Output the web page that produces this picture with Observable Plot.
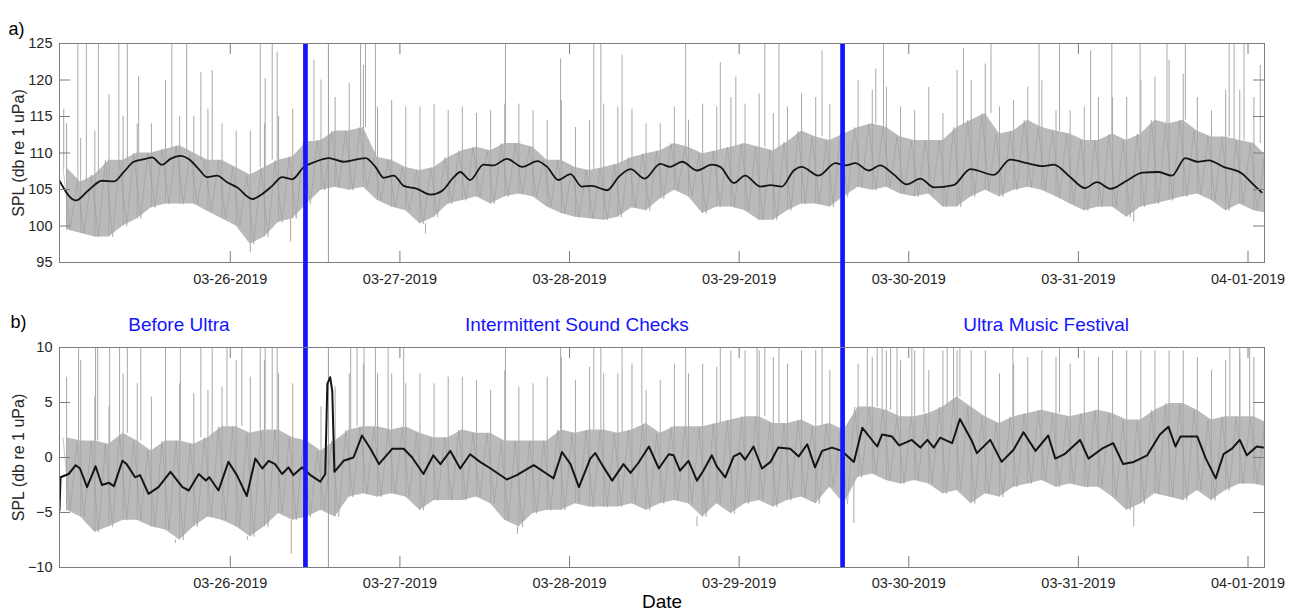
<!DOCTYPE html>
<html><head><meta charset="utf-8">
<script src="https://cdn.jsdelivr.net/npm/d3@7"></script>
<script src="https://cdn.jsdelivr.net/npm/@observablehq/plot@0.6"></script>
<style>
body{margin:0;background:#fff;}
#chart{width:1309px;height:614px;overflow:hidden;position:relative;}
</style></head><body><div id="chart"></div>
<script>
// ---------- data (hours are counted from the left edge of the axes) ----------
const startUTC = "2019-03-24T23:50:00Z";
const endUTC = "2019-04-01T02:20:00Z";
const tickDays = ["2019-03-26","2019-03-27","2019-03-28","2019-03-29","2019-03-30","2019-03-31","2019-04-01"];
const yTicksA = [95, 100, 105, 110, 115, 120, 125];
const yTicksB = [-10, -5, 0, 5, 10];
const yTitle = "SPL (db re 1 uPa)";
const phaseBreaksH = [34.8, 110.8];
const phaseLabels = ["Before Ultra", "Intermittent Sound Checks", "Ultra Music Festival"];
const phaseLabelH = [16.9, 73.2, 139.6];
const gapLineH = 38.05;

// panel a: 2-hour bins, band bottom / band top / top of the hairy spikes
const aLo = [99.5,99,98.5,98.5,100,101,102.5,103,103,103,102,101,100,97.5,98.5,100.5,101,103,104.9,105.3,104.9,105.3,103.5,102.6,102.1,100.3,101.2,103,103.5,104,103,104,104.4,104,102.6,101.7,101.2,101,100.8,101.2,102.5,102.1,103.7,104.9,104,101.7,102.6,102.6,102.1,100.8,100.8,102.1,103,103,102.6,104,105.3,104.9,105.3,104.4,104,104.4,102.6,102.6,104,104.9,104,104.9,105.3,104.9,104,103,102.1,102.6,102.6,101.2,102.6,103,103.5,104,104.4,103.5,102.1,103,102.1,101.7];
const aHi = [108,106,107,109,109,110,110,110.5,111,110,109,109,108,107,108,109,109.5,111.5,111.7,113,113,113.5,109.4,109,108,107.6,108,109.4,110.3,110.8,110.3,111.3,111.3,110.8,109,109,108,107.6,108,108.5,109.4,109.9,110.3,111.3,110.8,109.9,110.3,110.8,111.3,110.8,110.3,111.5,113,112.2,111.7,112.6,113.5,114,113.5,112.2,111.7,111.7,111.7,113.5,114.5,115.4,112.6,113,114.5,113.5,113,112.6,111.7,111.7,112.6,111.7,112.6,114.5,114,114.5,113,112.2,112.2,111.7,111.3,109.4];
const aPk = [114,112,113,118,115,114,114,116,115,115,116,114,113,113,114,115,116,116,120,117.6,119.5,122,116.3,117.2,116.3,116.3,116.7,115.8,116.3,115.4,115.8,116.7,116.7,115.8,114.5,117.2,113.5,114.5,116.7,116.3,116,114,114,116.3,114.5,116.7,116.3,117.6,116.7,118.1,115.4,116.3,118.1,117.6,116.7,119.5,119.9,118.6,119,116.3,115.8,119,115.4,121.3,119.9,122.2,116.3,117.2,119,119.9,115.8,115.8,116.3,117.6,117.6,117.6,119.9,120.4,122.7,120.8,117.6,115.8,118.6,118.6,117.6,116.3];
// panel a: smoothed trend (hour, dB)
const aTrendH = [0,2.3,4.1,6.0,7.7,9.1,10.5,12.2,13.1,14.5,15.7,17.1,18.5,19.7,20.9,22.3,23.7,25.1,27.3,28.7,30.1,31.5,32.9,34.6,36.2,38.1,40.2,43.3,44.7,45.9,47.3,48.7,50.6,52.5,54.1,55.8,56.7,58.1,60.0,61.4,63.3,65.5,67.6,69.0,70.6,72.3,73.9,75.3,77.5,79.1,80.8,82.8,85.0,86.4,88.1,90.2,92.3,93.5,95.4,97.0,99.2,100.6,102.2,103.9,105.0,107.4,109.8,111.2,112.6,114.5,116.1,118.0,119.9,121.8,123.7,126.5,128.9,132.2,134.5,136.9,139.2,140.7,143.0,145.1,146.8,148.7,151.0,153.2,155.5,157.4,159.3,161.0,162.6,164.7,167.3,168.9,170.1];
const aTrendV = [106.2,103.5,104.9,106.2,106.1,107.4,108.8,109.2,109.4,108.4,109.2,109.6,109.0,107.8,106.7,106.9,106.0,105.3,103.7,104.4,105.5,106.7,106.4,108.1,108.8,109.3,108.8,109.3,108.1,106.6,106.9,105.5,105.1,104.3,104.8,106.7,107.4,106.3,108.4,108.3,109.2,108.1,108.9,108.1,106.3,107.1,105.4,105.5,104.9,106.7,107.8,106.5,108.5,108.1,108.8,107.6,108.4,108.1,105.9,106.9,105.4,105.6,105.4,107.6,108.1,106.9,108.6,108.3,108.6,107.6,108.3,107.1,105.7,106.5,105.3,105.6,107.8,107.0,109.1,108.6,108.2,108.4,106.7,105.2,106.0,105.1,106.2,107.3,107.4,106.9,109.3,108.8,109.0,108.1,107.2,105.7,104.6];
// panel a: isolated tall spikes (hour, top) and deep dips (hour, bottom)
const aSpikeH = [0.6,2.6,3.8,5.5,8.4,9.6,11.2,15.0,15.9,18.0,20.0,21.6,28.4,29.1,30.1,30.8,36.0,42.6,43.3,44.7,63.1,70.9,75.6,76.6,79.6,88.6,93.5,95.7,99.8,101.8,107.9,115.5,116.6,127.9,131.8,138.6,141.5,145.9,148.9,152.9,156.7,159.3,165.5,166.2,167.6,169.9];
const aSpikeTop = [116,125,125,125,125,125,120.5,119.9,125,125,121,121.3,125,120.2,125,123.8,122.7,125,125,125,125,122.9,125,125,123.4,125,122.4,120.4,125,125,124,121.5,125,124.3,125,125,125,124,125,125,125,125,125,125,125,122];
const aDipH = [27.0, 32.7, 51.8, 152.0];
const aDipLow = [96.4, 97.8, 98.9, 100.5];

// panel b: 2-hour bins
const bLo = [-4.8,-5.4,-6.8,-6.3,-5.7,-5.7,-6.3,-6.6,-7.5,-6.3,-5.4,-5.7,-6.3,-7.2,-6.3,-5.1,-5.7,-5.4,-4.8,-5.4,-3.6,-3.3,-3.6,-3.3,-3.6,-4.8,-3.9,-3.9,-3.9,-3.6,-4.2,-5.7,-6.3,-5.1,-4.8,-4.8,-4.2,-4.5,-4.5,-4.5,-4.2,-4.8,-4.2,-3.9,-4.2,-5.4,-4.2,-5.1,-4.2,-3.9,-4.5,-3.9,-3.6,-4.2,-2.7,-4.2,-1.8,-1.5,-2.1,-2.4,-2.1,-2.4,-3.3,-3.0,-4.2,-3.3,-3.6,-2.7,-2.4,-2.1,-2.7,-2.4,-2.7,-2.7,-3.6,-4.8,-4.2,-3.3,-3.6,-3.9,-3.0,-3.9,-3.0,-2.4,-2.4,-2.7];
const bHi = [1.8,1.5,1.5,1.2,2.2,1.5,0.6,1.5,1.5,1.2,1.8,2.8,2.8,2.2,2.5,2.5,1.8,1.5,0.6,1.5,2.5,2.8,2.8,2.5,2.8,2.2,1.8,1.8,2.5,2.2,2.2,1.5,1.5,1.5,1.5,2.5,2.2,2.5,2.5,2.2,2.5,3.1,2.2,2.8,2.8,2.8,3.1,3.4,3.7,3.7,3.1,3.1,3.4,2.8,3.1,2.5,4.6,4.6,4.3,3.7,3.7,4.0,4.6,5.5,4.6,3.7,3.1,3.7,4.0,4.3,4.0,3.7,4.0,4.3,4.0,3.4,3.4,4.3,4.9,4.9,4.3,3.4,3.7,3.7,3.7,3.1];
const bPk = [7.3,8.8,5.5,4.6,7.6,6.7,5.5,6.1,6.7,5.8,6.1,6.4,8.8,7.3,8.8,7.6,6.7,6.1,4.6,6.4,7.6,8.5,7.6,7.6,6.7,7.6,6.7,7.3,7.3,7.0,6.1,7.9,6.4,6.7,7.3,9.1,7.0,8.2,7.6,7.6,8.5,6.1,7.0,8.5,7.6,8.5,8.2,9.7,9.7,9.7,9.1,8.5,9.7,9.7,7.9,5.5,8.5,9.1,9.7,8.8,9.7,7.9,9.7,9.7,9.7,9.7,7.6,8.5,9.1,9.7,9.1,8.5,9.7,9.1,9.7,9.7,9.7,9.7,9.7,9.7,9.1,7.9,8.8,9.4,9.1,7.9];
// panel b: running average (hour, dB)
const bRunH = [0,0.15,1.3,2.3,2.9,3.9,5.1,6.0,7.0,7.7,8.9,9.5,10.7,11.4,12.6,14.0,15.7,17.4,18.3,19.7,20.7,21.2,22.5,23.9,25.1,26.5,27.7,28.7,29.6,30.5,31.5,32.4,33.1,34.3,35.5,36.9,37.6,37.9,38.3,38.6,38.9,40.2,41.6,42.8,44.0,45.2,47.1,48.7,49.9,51.5,52.9,53.9,55.3,56.7,58.1,59.5,61.0,63.3,64.7,67.1,69.0,69.9,71.1,72.3,73.5,75.1,75.8,77.0,78.2,79.8,80.8,81.9,83.4,84.8,86.2,86.9,87.8,89.0,90.2,91.1,92.3,93.0,94.2,95.4,96.3,97.0,98.2,99.4,100.6,101.7,103.4,104.6,105.8,106.9,107.9,109.3,110.7,112.4,113.6,115.7,116.4,117.8,118.8,120.6,121.8,122.8,123.7,124.6,126.3,127.4,129.1,129.8,131.7,133.3,135.0,136.4,138.1,139.9,140.9,142.2,144.4,145.6,147.5,149.1,150.5,152.0,153.9,155.7,156.9,157.9,158.6,161.0,162.2,163.6,164.7,165.9,167.0,168.0,169.4,170.3];
const bRunV = [-4.8,-1.8,-1.5,-0.7,-1.0,-2.7,-0.8,-2.5,-2.3,-2.6,-0.3,-0.6,-1.8,-1.6,-3.3,-2.7,-1.3,-2.7,-3.0,-1.5,-2.1,-1.8,-3.0,-0.4,-1.6,-3.5,-0.1,-1.0,-0.3,-0.6,-1.5,-0.9,-1.6,-0.9,-1.6,-2.2,-1.5,6.7,7.3,6.0,-1.3,-0.3,0.0,2.0,0.8,-0.6,0.8,0.8,0.0,-1.5,0.2,-0.6,0.6,-1.0,0.3,-0.4,-1.0,-2.0,-1.6,-0.7,-1.5,-1.9,0.5,-0.6,-2.7,-0.1,0.4,-0.9,-2.1,-0.6,-1.4,-0.5,1.0,-1.0,0.3,0.2,-1.2,-0.3,-2.1,-1.2,0.2,-0.8,-1.8,0.1,0.4,-0.2,1.0,-1.0,-0.4,0.9,0.8,0.1,1.2,-0.9,0.6,0.9,0.6,-0.4,2.7,1.0,2.1,1.9,1.1,1.6,0.9,1.6,0.9,1.8,1.3,3.5,1.5,0.4,1.6,-0.4,0.7,2.3,0.6,2.0,-0.1,0.3,1.6,-0.1,0.8,1.3,-0.6,-0.4,0.2,2.1,2.8,1.0,1.9,1.9,-0.1,-1.9,0.3,0.8,1.6,0.2,1.0,0.9];
const bSpikeH = [2.7,5.1,5.4,7.1,8.5,9.6,11.5,15.0,17.1,20.0,21.6,23.7,25.8,28.4,29.1,30.1,30.8,41.2,42.1,43.1,44.7,46.5,48.7,63.1,70.9,75.6,76.6,79.6,82.4,88.6,93.5,98.7,99.8,101.8,107.9,114.3,115.7,116.4,117.6,118.5,120.6,122.3,125.6,126.5,127.4,134.9,141.5,165.6,167.0,168.4];
const bSpikeTop = [10,10,10,10,10,10,10,10,10,10,10,10,10,10,10,10,10,10,10,10,10,10,10,10,10,10,10,10,10,10,10,10,10,10,10,10,10,10,10,10,10,10,10,10,10,10,10,10,10,10];
const bDipH = [16.4, 26.6, 32.8, 64.8, 90.2, 112.4, 152.0];
const bDipLow = [-7.8, -7.5, -8.8, -7.0, -6.3, -6.0, -6.3];

// ---------- drawing ----------
const FONT = '"Liberation Sans", Arial, Helvetica, sans-serif';
const GRAY = "#a8a8a8", GRAY_FILL = "#bababa", GRAY_DARK = "#9a9a9a", FRAME = "#7d7d7d", BLUE = "#1414ff";
const W = 1309, ML = 59, MR = 45;
const t0 = new Date(startUTC).getTime();
const T = h => new Date(t0 + h * 3600e3);
const tickDates = tickDays.map(s => new Date(s + "T00:00:00Z"));
const fmt = d3.utcFormat("%m-%d-%Y");
const breaks = phaseBreaksH.map(T);

function binRows(lo, hi, pk) { return lo.map((l, i) => ({t: T(2 * i + 1), lo: l, hi: hi[i], pk: pk[i]})); }
function zigRows(lo, hi) { return lo.flatMap((l, i) => [{t: T(2 * i + 0.5), v: hi[i]}, {t: T(2 * i + 1.5), v: l}]); }
function spikeRows(hs, tops, ref) { return hs.map((h, i) => ({t: T(h), base: ref[Math.min(ref.length - 1, Math.floor(h / 2))], top: tops[i]})); }
function seriesRows(hs, vs) { return hs.map((h, i) => ({t: T(h), v: vs[i]})); }

function panel(o) {
  const innerW = W - ML - MR, innerH = o.height - o.mt - o.mb;
  const rows = binRows(o.lo, o.hi, o.pk);
  return Plot.plot({
    width: W, height: o.height,
    marginLeft: ML, marginRight: MR, marginTop: o.mt, marginBottom: o.mb,
    style: {background: "transparent", overflow: "visible", fontFamily: FONT, fontSize: "14.5px", color: "#262626"},
    x: {type: "utc", domain: [T(0), new Date(endUTC)]},
    y: {domain: o.yDomain},
    marks: [
      Plot.areaY(rows, {x: "t", y1: "lo", y2: "hi", fill: GRAY_FILL, clip: true}),
      Plot.ruleX(rows, {x: "t", y1: "lo", y2: "pk", stroke: GRAY, strokeWidth: 1, clip: true}),
      Plot.line(zigRows(o.lo, o.hi), {x: "t", y: "v", stroke: GRAY_DARK, strokeWidth: 0.8, strokeOpacity: 0.7, clip: true}),
      Plot.ruleX(spikeRows(o.spikeH, o.spikeTop, o.hi), {x: "t", y1: "base", y2: "top", stroke: GRAY, strokeWidth: 1, clip: true}),
      Plot.ruleX(spikeRows(o.dipH, o.dipLow, o.lo), {x: "t", y1: "base", y2: "top", stroke: GRAY, strokeWidth: 1, clip: true}),
      Plot.ruleX([T(gapLineH)], {x: d => d, stroke: "#9a9a9a", strokeWidth: 1}),
      Plot.line(seriesRows(o.runH, o.runV), {x: "t", y: "v", curve: o.curve, stroke: "#141414", strokeWidth: o.runWidth, clip: true}),
      Plot.ruleX(breaks, {x: d => d, stroke: BLUE, strokeWidth: 4.7, insetTop: o.blueInsetTop}),
      Plot.frame({stroke: FRAME}),
      Plot.ruleX(tickDates, {x: d => d, stroke: FRAME, insetTop: innerH - 11}),
      Plot.ruleX(tickDates, {x: d => d, stroke: FRAME, insetBottom: innerH - 11}),
      Plot.ruleY(o.yTicks, {y: d => d, stroke: FRAME, insetRight: innerW - 11}),
      Plot.ruleY(o.yTicks, {y: d => d, stroke: FRAME, insetLeft: innerW - 11}),
      Plot.axisX({ticks: tickDates, tickFormat: fmt, tickSize: 0, tickPadding: o.xPad, label: null}),
      Plot.axisY({ticks: o.yTicks, tickSize: 0, tickPadding: 7, label: null}),
      Plot.text([yTitle], {text: d => d, frameAnchor: "left", rotate: -90, dx: -41, fontSize: 16, textAnchor: "middle", fill: "#262626"}),
      Plot.text([o.tag], {text: d => d, frameAnchor: "top-left", dx: o.tagDx, dy: o.tagDy, fontSize: 18, textAnchor: "start", fill: "#000"}),
      ...(o.extra || [])
    ]
  });
}

const chart = document.getElementById("chart");
chart.append(panel({
  height: 300, mt: 43, mb: 38, yDomain: [95, 125], yTicks: yTicksA,
  lo: aLo, hi: aHi, pk: aPk, spikeH: aSpikeH, spikeTop: aSpikeTop, dipH: aDipH, dipLow: aDipLow,
  runH: aTrendH, runV: aTrendV, curve: "monotone-x", runWidth: 1.8, blueInsetTop: 0, xPad: 11,
  tag: "a)", tagDx: -51, tagDy: -21
}));
chart.append(panel({
  height: 314, mt: 47, mb: 47, yDomain: [-10, 10], yTicks: yTicksB,
  lo: bLo, hi: bHi, pk: bPk, spikeH: bSpikeH, spikeTop: bSpikeTop, dipH: bDipH, dipLow: bDipLow,
  runH: bRunH, runV: bRunV, curve: "linear", runWidth: 2, blueInsetTop: -85, xPad: 10,
  tag: "b)", tagDx: -49, tagDy: -32,
  extra: [
    Plot.text(phaseLabels, {x: (d, i) => T(phaseLabelH[i]), text: d => d, frameAnchor: "top", dy: -30, fill: BLUE, fontSize: 19}),
    Plot.text(["Date"], {text: d => d, frameAnchor: "bottom", dy: 40, fontSize: 19, fill: "#000"})
  ]
}));
</script></body></html>
